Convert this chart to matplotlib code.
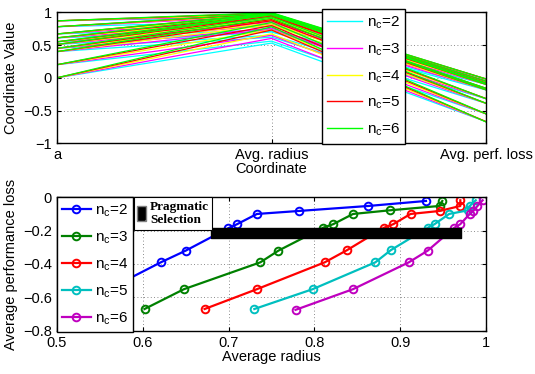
import matplotlib

matplotlib.use("Agg")
import matplotlib.pyplot as plt
from matplotlib.patches import Patch
from matplotlib.lines import Line2D

plt.rcParams["font.family"] = ["Liberation Sans", "DejaVu Sans"]
plt.rcParams["mathtext.fontset"] = "custom"
plt.rcParams["mathtext.rm"] = "Liberation Sans"

# data: one entry per n_c, ten operating points each
nc_labels = [r"n$_\mathregular{c}$=2", r"n$_\mathregular{c}$=3", r"n$_\mathregular{c}$=4",
             r"n$_\mathregular{c}$=5", r"n$_\mathregular{c}$=6"]
a_vals = [0.0, 0.2, 0.40, 0.45, 0.51, 0.55, 0.61, 0.67, 0.78, 0.87]
radius = [
    [0.53, 0.56, 0.621, 0.650, 0.699, 0.710, 0.733, 0.782, 0.863, 0.930],
    [0.602, 0.648, 0.737, 0.758, 0.810, 0.822, 0.845, 0.888, 0.946, 0.949],
    [0.672, 0.733, 0.812, 0.838, 0.881, 0.892, 0.912, 0.946, 0.970, 0.970],
    [0.730, 0.798, 0.871, 0.889, 0.932, 0.940, 0.957, 0.979, 0.981, 0.988],
    [0.778, 0.845, 0.910, 0.932, 0.963, 0.970, 0.981, 0.985, 0.990, 0.996],
]
perf_loss = [
    [-0.67, -0.551, -0.39, -0.32, -0.187, -0.161, -0.10, -0.082, -0.052, -0.022],
    [-0.67, -0.551, -0.39, -0.32, -0.183, -0.161, -0.10, -0.078, -0.052, -0.022],
    [-0.67, -0.551, -0.39, -0.317, -0.183, -0.161, -0.10, -0.082, -0.052, -0.018],
    [-0.67, -0.551, -0.39, -0.317, -0.183, -0.161, -0.10, -0.078, -0.052, -0.018],
    [-0.675, -0.551, -0.39, -0.32, -0.183, -0.161, -0.10, -0.082, -0.052, -0.018],
]
coord_names = ["a", "Avg. radius", "Avg. perf. loss"]
sel_x = [0.679, 0.971]
sel_lo = [-0.243, -0.243]
sel_hi = [-0.187, -0.187]

top_colors = ["#00FFFF", "#FF00FF", "#FFFF00", "#FF0000", "#00FF00"]
bot_colors = ["#0000FF", "#008000", "#FF0000", "#00BFBF", "#BF00BF"]

fig = plt.figure(figsize=(5.35, 3.74), dpi=100)
ax1 = fig.add_axes([0.1065, 0.617, 0.802, 0.350])
ax2 = fig.add_axes([0.1065, 0.1158, 0.802, 0.3567])

# --- parallel coordinates
xs = [1, 2, 3]
for k in range(len(nc_labels)):
    for i in range(len(a_vals)):
        ax1.plot(xs, [a_vals[i], radius[k][i], perf_loss[k][i]],
                 color=top_colors[k], lw=0.9)
ax1.set_xlim(1, 3)
ax1.set_ylim(-1, 1)
ax1.set_xticks(xs)
ax1.set_xticklabels(coord_names)
ax1.set_yticks([-1, -0.5, 0, 0.5, 1])
ax1.set_yticklabels(["\u22121", "\u22120.5", "0", "0.5", "1"])
ax1.set_xlabel("Coordinate", fontsize=10.5, labelpad=0)
ax1.set_ylabel("Coordinate Value", fontsize=10.5)
ax1.grid(True, color="0.4", ls=(0, (1, 3)), lw=0.6)
h1 = [Line2D([], [], color=c, lw=1) for c in top_colors]
leg1 = ax1.legend(h1, nc_labels, loc="upper left", bbox_to_anchor=(0.617, 1.025),
                  fontsize=11, frameon=True, fancybox=False, edgecolor="k",
                  framealpha=1, handlelength=2.3, labelspacing=0.66, borderpad=0.35,
                  handletextpad=0.3, borderaxespad=0)
leg1.get_frame().set_linewidth(1.0)

# --- radius vs performance loss
for k in range(len(nc_labels)):
    ax2.plot(radius[k], perf_loss[k], color=bot_colors[k], lw=1.6,
             marker="o", ms=5.5, mfc="none", mew=1.4, label=nc_labels[k])
ax2.fill_between(sel_x, sel_lo, sel_hi, color="k", zorder=5,
                 label="Pragmatic\nSelection")
ax2.set_xlim(0.5, 1)
ax2.set_ylim(-0.8, 0)
ax2.set_xticks([0.5, 0.6, 0.7, 0.8, 0.9, 1])
ax2.set_xticklabels(["0.5", "0.6", "0.7", "0.8", "0.9", "1"])
ax2.set_yticks([-0.8, -0.6, -0.4, -0.2, 0])
ax2.set_yticklabels(["\u22120.8", "\u22120.6", "\u22120.4", "\u22120.2", "0"])
ax2.set_xlabel("Average radius", fontsize=10.5, labelpad=0)
ax2.set_ylabel("Average performance loss", fontsize=10.5)
ax2.grid(True, color="0.4", ls=(0, (1, 3)), lw=0.6)

lines = ax2.get_lines()
leg2 = ax2.legend(lines, nc_labels, loc="upper left", bbox_to_anchor=(0, 1),
                  fontsize=11, frameon=True, fancybox=False, edgecolor="k",
                  framealpha=1, handlelength=1.9, labelspacing=0.68, borderpad=0.3,
                  handletextpad=0.3, borderaxespad=0)
leg2.get_frame().set_linewidth(1.0)
leg2.set_zorder(10)
ax2.add_artist(leg2)
sel_handle = Patch(facecolor="k", edgecolor="0.5", hatch="/")
leg3 = ax2.legend([sel_handle], ["Pragmatic\nSelection"], loc="upper left",
                  bbox_to_anchor=(0.1795, 1), frameon=True, fancybox=False,
                  edgecolor="k", framealpha=1, handlelength=0.65, handleheight=1.3,
                  handletextpad=0.3, borderpad=0.25, borderaxespad=0,
                  prop={"family": "Liberation Serif", "weight": "bold", "size": 9.5})
leg3.get_frame().set_linewidth(0.8)
leg3.set_zorder(10)

for ax in (ax1, ax2):
    ax.tick_params(direction="in", top=True, right=True, labelsize=10.5,
                   length=3, width=0.8)
    for s in ax.spines.values():
        s.set_linewidth(1.0)

fig.savefig("out.png", dpi=100)
